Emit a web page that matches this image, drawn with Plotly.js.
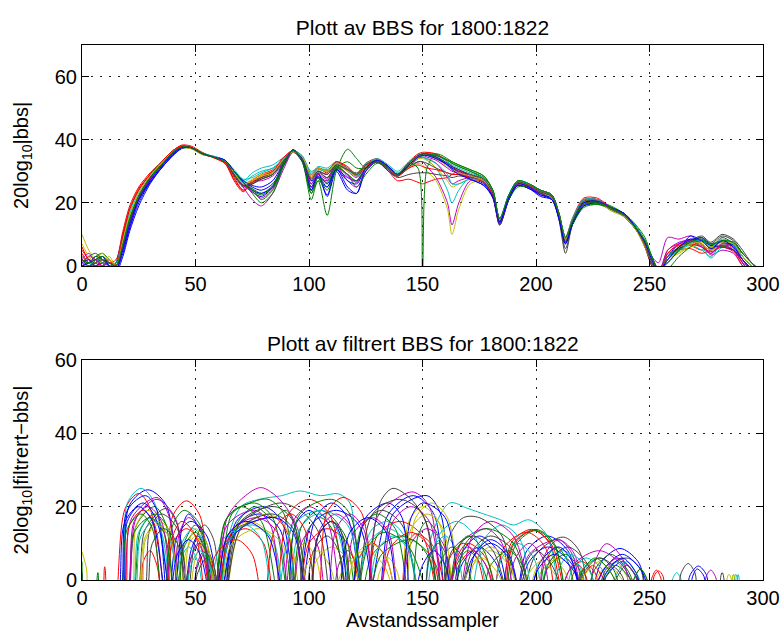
<!DOCTYPE html>
<html>
<head>
<meta charset="utf-8">
<script src="https://cdn.plot.ly/plotly-3.0.1.min.js"></script>
<style>html,body{margin:0;padding:0;background:#fff;}#chart{width:784px;height:631px;}</style>
</head>
<body>
<div id="chart"></div>
<script>
// ---------- Data ----------
const titleTop = 'Plott av BBS for 1800:1822';
const titleBottom = 'Plott av filtrert BBS for 1800:1822';
const xTickVals = [0, 50, 100, 150, 200, 250, 300];
const yTickVals = [0, 20, 40, 60];

// Top panel: shared range-sample positions, one dB series per ping 1800..1822
const topX = [0,3,6,9,12,15,18,21,25,30,35,40,44,48,53,58,63,67,71,75,79,84,89,93,97,101,104,108,112,117,121,125,130,135,139,144,148,150,152,156,161,163,166,171,177,181,184,188,192,197,202,207,210,213,216,221,227,233,239,244,248,251,254,258,263,268,273,277,282,287,291,295,300];
const bbs1800 = [1,0,2,1,-2,1,10,16,21,26.5,31,35,37.3,37.5,35.5,34.5,33.5,30,26.5,23.5,22,25,33,36.8,33,24,29.5,22,30,24,23,31,33,30,28.5,32.5,35,35.5,35.5,34.5,32,31,30,28,26,22,14,21,26,25,23,22,15,7,13,20,20.5,18.5,16.5,12,7,2,-2,3,7,8.5,7,5,8,6.5,2,-1,-4];
const bbs1801 = [2,1,3,4,2,0,6,14,21,27.5,32,35.5,37.5,37.4,35.5,34.5,33.5,29.5,26,24.5,21,24,32,36.5,34,23,27,16,30,37,34,31,33,31,29,32.5,35,35.5,35.8,35.3,33.5,32.5,31.5,30,27.5,23,13,21,26,25.5,23,22,16,8,13,19.5,20.5,19,16.5,12.5,8,2,-3,2,5.5,7,8,5.5,7,7,3,0,-3];
const bbs1802 = [6,2,1,3,1,2,11,19,25,29.5,33,36.5,38.3,38,36,34.3,32.5,27,23.5,27,29,30.5,34.5,36.5,34,29,31,29.5,33,30.5,29,32,33,30,27,27.5,26.5,26,26.5,27.5,28,29,30,29,27,23.5,15,22,26.5,25.5,24,22.5,16,8.5,14,21,21,18,16,12,6,0,-3,5,7,6.5,5,6,7.5,5.5,1,-3,-4];
const bbs1803 = [1,0,1,2,0,1,9,17,24,29,33,36,37.5,37.2,35.5,34.8,33.5,30,27,29.5,31,32,34.5,36,34.5,30,31,30.5,32,29,27,32.5,33.5,31.5,29.5,32,34,34.5,33.5,31,24,20,24,28,27,23,14.5,22.5,27,25.5,23.5,21.5,16,8,14.5,21,20.5,17.5,16,11.5,7,1,-2,4,5,6.5,5,3,7,5,1,-3,-4];
const bbs1804 = [2,4,1,0,2,0,5,12,21,27,31.5,35.5,37.5,37.5,35.5,34.5,33,29,25,21,19,23,31,36,33,25,28,27,31.5,27,25,30,33,31,29,31,33,33,31.5,28,20,13,20,27,26.5,21.5,13,21,25.5,24.5,23,21.5,16.5,8,13.5,19.5,20,18,15.5,11.5,7,3,1,9,8.5,9.5,7,3.5,5,4,0,-3,-4];
const bbs1805 = [10,5,2,1,3,0,8,16,23,28,32,35.5,37.4,37.2,35.3,34.6,33,29.5,26,27,28,29,33.5,36,34.5,28,30,29,32,29,27,31.5,33,30.5,28.5,31,32.5,32,30,27,18,10,18,26,27,23,14,21,26,25,23.5,22,17,9,14,20,20.5,18.5,16,12,7,2,-3,2,4,6,6.5,5,6,5,2,-2,-4];
const bbs1806 = [3,1,0,2,1,0,6,14,22,27.5,32,35.8,37.6,37.4,35.4,34.5,33,28.5,25,26,27.5,29,33.5,36.5,34.5,27,30,28,31.5,30.5,29.5,32,33,30,28,29,29.5,29.5,29.5,29,28.5,28,28.5,28,26.5,22,13,21,26.5,25,23,21,15,4,13,20,20,18,16,11.5,6,0,-3,3,5.5,7.5,8,6,9,7,3,0,-3];
const bbs1807 = [0,1,3,2,0,-1,4,12,20,26.5,31,35,37.2,37.5,35.6,34.5,33.5,30,27,25,24,26,32,36.5,34,27,28,22.5,31,25,23,30,33,31,29,32,34.5,35,35,34,32,31,29.5,27.5,25.5,21.5,13.5,21,25.5,24.5,22.5,21.5,16,8,13,19,20,18.5,16.5,12.5,8,3,-1,2,6,8,9,7,7.5,6.5,3,0,-3];
const bbs1808 = [1,3,4,2,0,1,7,15,22,28,32.5,36,37.8,37.6,35.8,34.6,33,30,26.5,23,20,23,32,36.2,33,21,27,25,31,29,25,29,32.5,31,29,31.5,34,35,35.2,35,33.5,33,32,30.5,28.5,24,15,22,27,26,24,22.5,17,9,14,19,19.5,18,15.5,11.5,7.5,3,-1,3,6,8,8.5,6.5,8,7.5,4,1,-3];
const bbs1809 = [4,1,2,0,1,0,9,18,24,29,32.5,36.5,38,37.6,35.6,34.4,32.5,28,24,26,28,30,34,36.7,34.5,28,31,30,33,31.5,29,32.5,34,31.5,29,33,35.5,36,36,35.5,33,31.5,30,28.5,27,23,14,22,26.5,25.5,24,22.5,17,9,15,21.5,21.5,18.5,16,12,7,1,-3,3,5,5.5,4,5,6.5,5,1,-3,-4];
const bbs1810 = [2,0,1,3,1,0,8,16,23,28.5,32.5,36,37.5,37.3,35.5,34.6,33.5,30.5,27.5,28,29.5,31,34,36.5,35,29.5,31.5,31,33,31,29,32,34,32,30,33,35,35.5,35.5,35,33,32,31,29.5,27.5,23,15,22.5,27,26,24,22.5,17,9,15,21,21,18.5,16.5,12.5,8,2,-2,2,5,7,6,2.5,6,6.5,3,0,-3];
const bbs1811 = [0,2,1,2,0,-1,6,14,22,28,32,36,37.6,37.3,35.4,34.5,33,29,26,27,27,28.5,33,36.3,34,28,30,29,32.5,30,28,32,33.5,30.5,28.5,32,34,34.5,34,32.5,28,26,27,28,27,23,14,21.5,26,25,23.5,22,16.5,8.5,14,20.5,21,18.5,16,12,7,2,-2,4,7,8,6.5,4,6.5,5,1,-2,-4];
const bbs1812 = [3,1,2,4,1,0,7,15,23,28.5,32.5,36,37.5,37.2,35.3,34.5,33,29.5,26,27.5,29,30,34,36.2,34,28,30.5,30,32,30,28.5,32,33.5,31,29,32,34,34,33.5,31,27,25,26,27.5,26.5,22.5,14,21.5,26,25,23.5,21.5,16,8,14,20.5,20.5,17.5,15.5,11.5,6,1,-3,2,4.5,6,7,5,7,6,2,-2,-4];
const bbs1813 = [2,0,1,3,0,0,6,14,21.5,27.5,32,35.8,37.5,37.3,35.4,34.5,33,29,25.5,26.5,28,29.5,33.5,36.3,34,26,29.5,28,32,30.5,29,32,33,30.5,28.5,31.5,33,33,32.5,31,29.5,29,29,28.5,27,23,14,22,26.5,25.5,23.5,22,16,5.5,13,20,20.5,18,16,12,7,1,-2,3,6,7.5,9,7,9.5,8,4,1,-3];
const bbs1814 = [1,2,0,1,0,-2,3,11,19,26,31,35,37.3,37.5,35.5,34.6,33.5,30,27,25.5,25,27,33,36.8,34,25,29,26,30.5,28,27,31,33.5,31.5,29,32,34.5,35,35,34.5,32.5,31.5,30.5,28.5,26.5,22.5,14,21,25.5,24.5,22,21,15.5,7.5,13,19,20,18.5,16.5,12,7,2,-1,1,5,9.5,8,6.5,6,5,2,-1,-4];
const bbs1815 = [2,1,3,2,1,0,7,15,22.5,28,32,36,37.7,37.5,35.5,34.5,33,29,25.5,24.5,23,25.5,33,36.5,33.5,24,28,24,31,33,31,31,33,31,29,32.5,35,35.5,35.5,35,33.5,32.5,31.5,30,28,24,15,21,25,25,23.5,22,17,9,13,18.5,19.5,18.5,16.5,13,9,3,-2,-1,3,6,8,7,6,7,4,1,-2];
const bbs1816 = [5,2,0,1,2,0,10,18,24.5,29,33,36.5,38,37.6,35.5,34.3,32.5,27.5,24,26.5,28.5,30,34.5,36.6,34.5,29,31,30,33,31,28.5,31.5,33.5,31,28.5,31,32,31.5,31,30.5,29.5,29,29,28,26.5,22.5,14,22,26.5,25.5,24,22.5,16.5,8.5,14.5,21,21,18,16,12,6.5,1,-3,4,6.5,7,6,4.5,6,4.5,0,-3,-4];
const bbs1817 = [1,0,2,1,0,0,7,16,23,28.5,32.5,36.2,37.6,37.3,35.6,34.7,33.5,30,26.5,28.5,30,31,34,36.5,34.5,28.5,30.5,30,32.5,30.5,28.5,32.5,33.5,31,29,32.5,34.5,34.5,34,32.5,29,26,26,27.5,27,23.5,15,22.5,27,26,24,22.5,16.5,8.5,14.5,21,21,18,16,12,7,1,-3,3,5,7.5,8,6,8.5,7,3,0,-3];
const bbs1818 = [1,3,2,0,1,0,6,14,22,27.5,32,36,37.6,37.4,35.5,34.5,33,29,25.5,23.5,21.5,24.5,32.5,36.2,33.5,26,29,27.5,31.5,28.5,26.5,31,33,31,29,32,34.5,35,34.5,33.5,31,30,29.5,28.5,27,23,14,21.5,26,25,23.5,22,16,8.5,14,20,20.5,18.5,16,12,7,2,-2,5,7.5,8,6,4,7,6,2,-2,-4];
const bbs1819 = [7,3,1,2,2,0,8,16,23,28.5,32.5,36,37.4,37.2,35.3,34.6,33.2,29.5,26,27,28.5,29.5,33.5,36.2,34.5,29,31,30,32.5,30.5,29,32,33.5,31,29,32.5,34.5,35,35,34,31.5,30.5,29.5,28.5,27,23,14.5,22,26.5,25.5,23.5,22,16.5,8.5,14,20.5,20.5,18,16,12,7,2,-2,3,6,7,7.5,6,7.5,7,3,0,-3];
const bbs1820 = [2,0,1,2,1,0,6,14,22,28,32,35.8,37.6,37.4,35.5,34.5,33,29,25.5,26,27.5,29,33.5,36.5,34,27.5,30,29,32,30.5,29,32,33.5,31,29,32.5,35,35.5,35.5,34.5,32.5,31.5,30.5,29,27.5,23,14,22,26.5,25.5,23.5,22,16,7.5,14,20.5,20.5,18,16,12,7,1,-2,3,6,8,9.5,7.5,10,8.5,5,1,-2];
const bbs1821 = [0,1,2,3,0,-1,5,13,21,27,31.5,35.5,37.5,37.5,35.6,34.5,33.5,30,26.5,24,23,25,32.5,36.7,33.5,24,28.5,25,30.5,27,26,31,33.5,31.5,29,32,34.5,35,35,34,32,30.5,29,27.5,25.5,22,14,21.5,26,25,22.5,21,15.5,7,13.5,20,20.5,18.5,16.5,12,7.5,2,-2,2,6,8.5,8,5.5,8,6,2,-1,-4];
const bbs1822 = [2,1,2,3,1,0,7,15,22,28,32,36,37.7,37.5,35.6,34.5,33,30,26.5,24,22.5,25,32.5,36.6,33.5,23,28,26.5,31.5,29,27,30.5,33,31,29,32.5,31,-2,31,35.5,34,33,32,30.5,28.5,24,15,22.5,27,26,24,22.5,17,9,14,19.5,20,18.5,16,12,8,3,-1,1,5,7.5,8.5,7,8,7.5,4,1,-2];

// Bottom panel: filtered BBS, each ping has its own knot positions (lobe nulls fall below the axis)
const fx1800 = [0,3,15,21,29,37,44,48,51,54,58,67,78,87,95,103,110,117,125,135,146,155,161,168,175,182,190,196,205,214,222,229,237,245,252,264,268,271.5,275,278,300];
const fy1800 = [2,-8,-8,20.5,24.6,20.5,-8,8,12,8,-8,14,18,14,-8,17,21,17,-8,18,23,18,-8,5,9,5,-8,8,12,8,-8,5,8.6,5,-8,-8,1.5,3.8,1.5,-8,-8];
const fx1801 = [0,2,5,7,9,18,24,32,37,41,45,50,55,60,68,76,84,90,96,100,104,110,116,122,128,140,150,156,160,165,170,176,183,190,200,208,215,221,228,234,240,243,246,249,252,300];
const fy1801 = [5,-8,-8,2,-8,-8,15,20,15,-8,10,15,10,-8,15,20,17,19,10,-8,12,16,12,-8,7,12,9,4,-8,4,8,4,-8,10,13.8,10,-8,3,6,3,-8,0,3,0,-8,-8];
const fx1802 = [0,3,8,10,12,14,19,25,30,36,40,46,52,57,63,72,80,85,91,100,109,118,122,128,134,140,143,147,155,162,166,172,178,185,189,198,206,213,216,219,222,226,248,251,253,255,257,300];
const fy1802 = [0,-8,-8,3.6,-8,-8,19.5,23.6,19.5,-8,17.5,21.6,17.5,-8,10,14,10,-8,18,22,18,-8,6,10,6,-8,9,12.6,9,-8,4,8,4,-8,10,13.8,10,-8,1,4,1,-8,-8,0.5,2.7,0.5,-8,-8];
const fx1803 = [0,16,20,26,32,40,44,49,54,60,63,70,78,88,96,105,113,118,122,128,135,142,150,154,162,170,177,184,190,197,205,212,216,222,229,235,258,260,262,264,266,300];
const fy1803 = [-8,-8,21,25,21,-8,10,14,10,-8,8,20,22,23,24.3,23,23.5,21,6,14,16,12,-8,12,21,19.5,18,16.5,15,16.4,12,-8,3,6,3,-8,-8,0,2,0,-8,-8];
const fx1804 = [0,18,24,33,41,48,51,54,57,60,64,72,79,87,95,100,105,112,119,125,130,138,146,153,160,167,178,185,190,197,210,217,222,226,231,238,245,272,275,277,279,283,300];
const fy1804 = [-8,-8,17,22,17,-8,5,8,5,-8,17,23,25.2,22,14,-8,14,18,14,-8,17,22,24,20,-8,10,14,10,-8,7,11,7,-8,5,9.9,6,-8,-8,1,2.7,1,-8,-8];
const fx1805 = [0,2,4,20,24,29,35,42,46,50,54,58,64,74,83,90,94,98,103,108,116,125,133,140,144,150,157,165,171,180,188,195,202,210,218,225,230,235,240,245,284,287,290,300];
const fy1805 = [7.7,3,-8,-8,15,19,15,-8,8,12,8,-8,12,16,12,-8,6,10,6,-8,4,8,4,-8,16,20,16,-8,4,8,4,-8,2,6,2,-8,1,5,1,-8,-8,1.5,-8,-8];
const fx1806 = [0,22,28,37,42,46,50,54,58,62,68,78,88,98,105,110,113,117,121,125,129,132,137,145,152,158,162,168,175,185,192,200,212,219,225,231,240,246,250,261,264,267,270,273,300];
const fy1806 = [-8,-8,14,19.5,15,-8,11,15,11,-8,14,19,21,18,12,-8,4,8,4,-8,15,22,25,22,15,-8,12,17,17,12,-8,7,11.7,8,-8,3,6,3,-8,-8,2,4.5,2,-8,-8];
const fx1807 = [0,15,20,28,33,38,42,48,55,62,68,80,88,95,101,112,122,130,137,152,158,163,168,175,183,190,197,205,215,225,231,238,244,250,266,269,271,274,276,300];
const fy1807 = [-8,-8,19,23,19,-8,12,16,12,-8,16,20,16,-8,15,19,15,-8,18,23,18,-8,8,12,8,-8,5,9,5,-8,1,5,1,-8,-8,1,3,1,-8,-8];
const fx1808 = [0,20,26,32,38,45,48,52,56,60,66,74,82,89,95,99,105,111,118,123,130,138,145,148,152,157,163,169,178,190,200,204,209,214,220,226,233,240,250,300];
const fy1808 = [-8,-8,14,18,14,-8,6,10,6,-8,18,21,22,18,-8,13,17,13,-8,14,18,14,-8,12,16,12,-8,10,14,10,-8,5,9,5,-8,3,7,3,-8,-8];
const fx1809 = [0,24,27,30,33,36,40,46,52,58,66,76,85,91,95,100,108,117,125,130,140,150,158,162,168,174,180,186,196,204,210,214,220,226,230,250,252,254,256,258,300];
const fy1809 = [-8,-8,5,8,4,-8,10,14,10,-8,13,16,17,12,-8,10,14,10,-8,12,16,12,-8,6,10,6,-8,9,13,9,-8,2,5,2,-8,-8,1,2.5,1,-8,-8];
const fx1810 = [0,20,25,30,35,40,43,47,51,55,62,75,84,90,96,104,112,120,126,135,143,150,154,160,165,170,177,185,193,200,205,212,219,225,230,236,241,245,284,288,292,300];
const fy1810 = [-8,-8,13,17,13,-8,5,9,5,-8,11,15,11,-8,14,18,14,-8,10,14,10,-8,8,12,8,-8,11,15,11,-8,4,8,4,-8,1,5,1,-8,-8,1.5,-8,-8];
const fx1811 = [0,16,22,33,38,44,48,51,54,58,64,76,83,88,93,100,108,115,120,128,135,140,145,152,159,165,172,180,190,200,204,210,216,222,229,236,243,250,300];
const fy1811 = [-8,-8,17,22.5,18,-8,6,10,6,-8,15,19,15,-8,16,20,16,-8,13,17,13,-8,10,14,10,-8,12,16,12,-8,7,11,7,-8,2,6,2,-8,-8];
const fx1812 = [0,22,28,34,40,46,50,53,57,62,70,82,90,98,103,110,118,128,131,135,139,142,147,154,161,168,173,180,188,195,200,205,212,220,226,232,238,245,283,287,291,300];
const fy1812 = [-8,-8,12,16,12,-8,6,10,6,-8,14,18,14,-8,5,9,5,-8,2,6,2,-8,17,21,17,-8,5,9,5,-8,3,7,3,-8,0,4,0,-8,-8,1.5,-8,-8];
const fx1813 = [0,25,30,35,42,48,51,55,58,62,70,85,93,98,102,108,113,118,124,132,141,150,153,157,161,165,172,180,190,200,206,214,222,230,235,240,245,250,278,282,286,300];
const fy1813 = [-8,-8,14,18,14,-8,4,8,4,-8,16,20,16,-8,8,12,8,-8,15,19,15,-8,6,10,6,-8,8,12,8,-8,5,9,5,-8,0,4,0,-8,-8,2,-8,-8];
const fx1814 = [0,14,19,27,33,40,44,47,53,60,68,85,93,100,104,110,114,118,125,135,141,145,150,155,160,165,172,180,188,195,202,210,216,222,230,238,246,255,300];
const fy1814 = [-8,-8,16,21,16,-8,14,18,12,-8,13,17,13,-8,12,16,12,-8,17,21,17,-8,4,8,4,-8,6,10,6,-8,5,9,5,-8,3,7,3,-8,-8];
const fx1815 = [0,18,23,30,36,42,45,50,54,58,64,76,84,92,97,105,113,120,126,133,144,155,158,163,169,175,180,188,194,200,205,213,219,225,230,235,242,250,300];
const fy1815 = [-8,-8,13,17,13,-8,9,13,9,-8,17,21,17,-8,15,19,15,-8,9,13,9,-8,5,9,5,-8,4,8,4,-8,3,7,3,-8,0,4,0,-8,-8];
const fx1816 = [0,17,21,27,32,37,40,44,50,55,59,68,75,80,85,92,98,104,108,115,123,130,136,145,153,160,165,170,178,185,190,199,207,215,220,225,230,235,300];
const fy1816 = [-8,-8,15,19,15,-8,12,16,12,-8,7,11,7,-8,14,18,14,-8,18.5,22.5,18.5,-8,9,13,9,-8,6,10,6,-8,9.5,13.5,9.5,-8,0,4,0,-8,-8];
const fx1817 = [0,21,26,32,38,45,48,52,56,60,65,72,79,85,93,105,117,125,130,137,144,150,157,165,173,180,185,192,199,205,210,215,223,230,235,240,245,250,286,289,292,300];
const fy1817 = [-8,-8,12,16,12,-8,4,8,4,-8,11,15,11,-8,15,19,15,-8,8,12,8,-8,12,16,12,-8,6,10,6,-8,3,7,3,-8,1,5,1,-8,-8,1.5,-8,-8];
const fx1818 = [0,18,23,29,35,40,43,47,53,58,65,77,86,92,96,100,104,108,112,118,124,130,137,145,153,160,165,170,177,185,191,197,203,208,216,228,238,250,300];
const fy1818 = [-8,-8,16,20,16,-8,13,17,13,-8,13,17,13,-8,9,13,9,-8,14,18,14,-8,16,20,16,-8,5,9,5,-8,6,10,6,-8,4,8,4,-8,-8];
const fx1819 = [0,24,28,33,39,44,47,50,55,60,66,78,88,95,99,104,109,115,120,127,134,140,145,152,159,165,170,176,183,190,196,202,209,215,221,228,234,240,280,285,290,300];
const fy1819 = [-8,-8,11,15,11,-8,10,14,10,-8,10,14,10,-8,4,8,4,-8,6,10,6,-8,14,18,14,-8,2,6,2,-8,1,5,1,-8,1,5,1,-8,-8,1.5,-8,-8];
const fx1820 = [0,26,31,36,42,48,51,55,58,62,70,84,93,100,104,110,115,120,128,140,150,158,163,172,181,190,195,200,207,215,221,228,237,245,300];
const fy1820 = [-8,-8,10,14,10,-8,2,6,2,-8,14,18,14,-8,12,16,12,-8,18,22,18,-8,8,12,8,-8,4,8,4,-8,2,6,2,-8,-8];
const fx1821 = [0,16,20,25,31,38,42,47,52,58,64,72,82,90,94,100,106,112,118,126,134,140,145,150,160,168,173,180,188,195,201,208,216,225,231,238,244,250,300];
const fy1821 = [-8,-8,16,20,16,-8,7,11,7,-8,12,16,12,-8,15,19,15,-8,13,17,13,-8,17,21,17,-8,7,11,7,-8,3,7,3,-8,2,6,2,-8,-8];
const fx1822 = [0,15,20,26,31,36,40,45,52,58,63,70,79,88,96,110,118,125,132,145,152,160,165,170,177,185,191,200,208,215,220,226,233,240,243,246,249,252,300];
const fy1822 = [-8,-8,14,18,14,-8,15,19,15,-8,16,20,16,-8,18,22,18,-8,7,11,7,-8,8,12,8,-8,9.5,13.5,9.5,-8,2,6,2,-8,0,3,0,-8,-8];

// ---------- Build traces ----------
const matlabColors = ['rgb(0,0,255)','rgb(0,128,0)','rgb(255,0,0)','rgb(0,191,191)','rgb(191,0,191)','rgb(191,191,0)','rgb(64,64,64)'];
const topSeries = [bbs1800,bbs1801,bbs1802,bbs1803,bbs1804,bbs1805,bbs1806,bbs1807,bbs1808,bbs1809,bbs1810,bbs1811,bbs1812,bbs1813,bbs1814,bbs1815,bbs1816,bbs1817,bbs1818,bbs1819,bbs1820,bbs1821,bbs1822];
const botXs = [fx1800,fx1801,fx1802,fx1803,fx1804,fx1805,fx1806,fx1807,fx1808,fx1809,fx1810,fx1811,fx1812,fx1813,fx1814,fx1815,fx1816,fx1817,fx1818,fx1819,fx1820,fx1821,fx1822];
const botYs = [fy1800,fy1801,fy1802,fy1803,fy1804,fy1805,fy1806,fy1807,fy1808,fy1809,fy1810,fy1811,fy1812,fy1813,fy1814,fy1815,fy1816,fy1817,fy1818,fy1819,fy1820,fy1821,fy1822];

const traces = [];
topSeries.forEach((ys, i) => {
  traces.push({x: topX, y: ys, type: 'scatter', mode: 'lines', xaxis: 'x', yaxis: 'y',
    line: {color: matlabColors[i % 7], width: 1, shape: 'spline', smoothing: 0.8}, hoverinfo: 'skip'});
});
botYs.forEach((ys, i) => {
  traces.push({x: botXs[i], y: ys, type: 'scatter', mode: 'lines', xaxis: 'x2', yaxis: 'y2',
    line: {color: matlabColors[i % 7], width: 1, shape: 'spline', smoothing: 0.9}, hoverinfo: 'skip'});
});

const axisCommon = {
  ticks: 'inside', ticklen: 7, tickcolor: '#000', tickwidth: 1,
  showline: true, linecolor: '#000', linewidth: 1, mirror: 'ticks',
  showgrid: true, gridcolor: '#222', gridwidth: 1, griddash: '1.5px,7.5px',
  zeroline: false, tickfont: {size: 20, color: '#000'}, layer: 'above traces'
};

const layout = {
  width: 784, height: 631,
  margin: {l: 82, r: 21, t: 45, b: 51},
  paper_bgcolor: '#fff', plot_bgcolor: '#fff',
  showlegend: false, hovermode: false,
  font: {family: 'Liberation Sans, Arial, Helvetica, sans-serif', size: 20, color: '#000'},
  title: {text: titleTop, xref: 'paper', x: 0.5, xanchor: 'center', yref: 'container', y: 1 - 28/631, yanchor: 'middle', font: {size: 21, color: '#000'}},
  xaxis: Object.assign({}, axisCommon, {domain: [0, 1], anchor: 'y', range: [0, 300], tickvals: xTickVals}),
  yaxis: Object.assign({}, axisCommon, {domain: [0.587, 1], anchor: 'x', range: [0, 70], tickvals: yTickVals,
    title: {text: '20log<sub>10</sub>|bbs|', standoff: 20, font: {size: 20}}}),
  xaxis2: Object.assign({}, axisCommon, {domain: [0, 1], anchor: 'y2', range: [0, 300], tickvals: xTickVals,
    title: {text: 'Avstandssampler', standoff: 10, font: {size: 20}}}),
  yaxis2: Object.assign({}, axisCommon, {domain: [0, 0.4112], anchor: 'x2', range: [0, 60], tickvals: yTickVals,
    title: {text: '20log<sub>10</sub>|filtrert\u2212bbs|', standoff: 20, font: {size: 20}}}),
  annotations: [{text: titleBottom, xref: 'paper', x: 0.5, xanchor: 'center', yref: 'paper', y: (580 - 343) / 535, yanchor: 'middle',
    showarrow: false, font: {size: 21, color: '#000'}}]
};

Plotly.newPlot('chart', traces, layout, {displayModeBar: false, staticPlot: true});
</script>
</body>
</html>
